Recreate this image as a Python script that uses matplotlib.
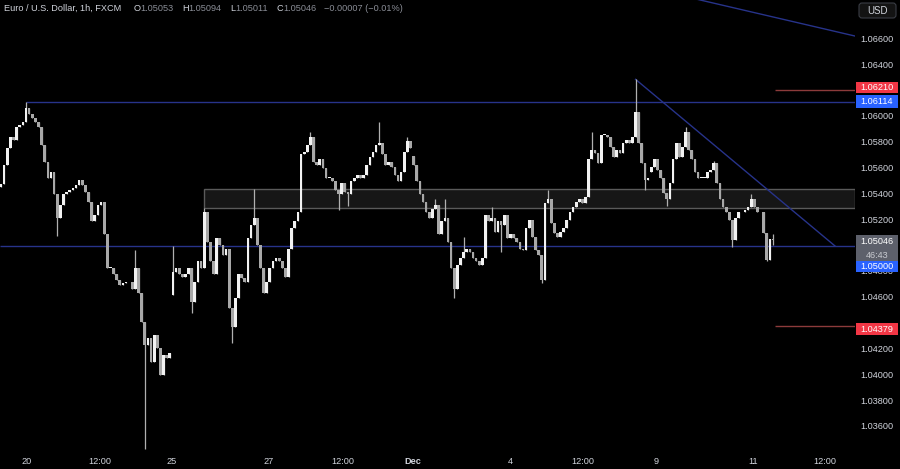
import matplotlib
matplotlib.use("Agg")
import matplotlib.pyplot as plt
from matplotlib.patches import Rectangle, FancyBboxPatch
import numpy as np

plt.rcParams["font.family"] = ["Liberation Sans", "DejaVu Sans"]

# EUR/USD 1h closes, one list per trading week
week1_close = [1.0548, 1.0563, 1.0576, 1.0584, 1.0582, 1.0592, 1.0594, 1.0596, 1.0607, 1.0602,
               1.0599, 1.0596, 1.0592, 1.0578, 1.0565, 1.0553, 1.0557, 1.0540, 1.0522, 1.0532,
               1.0540, 1.0542, 1.0543, 1.0545, 1.0547, 1.0551, 1.0547, 1.0542, 1.0534, 1.0519,
               1.0524, 1.0532, 1.0534, 1.0509, 1.0483, 1.0483, 1.0478, 1.0474, 1.0470, 1.0471,
               1.0472, 1.0472, 1.0467, 1.0483, 1.0464, 1.0441, 1.0423, 1.0429, 1.0410, 1.0431,
               1.0421, 1.0400, 1.0416, 1.0413, 1.0417]
week2_close = [1.0480, 1.0483, 1.0478, 1.0476, 1.0478, 1.0483, 1.0457, 1.0472, 1.0488, 1.0483,
               1.0526, 1.0503, 1.0488, 1.0478, 1.0506, 1.0501, 1.0493, 1.0498, 1.0452, 1.0437,
               1.0460, 1.0478, 1.0475, 1.0472, 1.0506, 1.0516, 1.0522, 1.0501, 1.0483, 1.0464,
               1.0472, 1.0483, 1.0488, 1.0491, 1.0488, 1.0483, 1.0476, 1.0498, 1.0514, 1.0519,
               1.0526, 1.0571, 1.0573, 1.0578, 1.0584, 1.0565, 1.0563, 1.0567, 1.0560, 1.0553,
               1.0553, 1.0550, 1.0543, 1.0540, 1.0549, 1.0542, 1.0540, 1.0550, 1.0553, 1.0555,
               1.0553, 1.0555, 1.0563, 1.0569, 1.0573, 1.0578, 1.0580, 1.0571, 1.0563, 1.0565,
               1.0561, 1.0555, 1.0550, 1.0557, 1.0573, 1.0581, 1.0576]
week3_close = [1.0563, 1.0550, 1.0540, 1.0534, 1.0526, 1.0522, 1.0529, 1.0532, 1.0509, 1.0519,
               1.0522, 1.0503, 1.0483, 1.0467, 1.0485, 1.0491, 1.0495, 1.0498, 1.0495, 1.0491,
               1.0488, 1.0485, 1.0491, 1.0524, 1.0519, 1.0522, 1.0511, 1.0519, 1.0516, 1.0524,
               1.0506, 1.0509, 1.0506, 1.0503, 1.0498, 1.0497, 1.0514, 1.0520, 1.0507, 1.0497,
               1.0493, 1.0474, 1.0533, 1.0536, 1.0518, 1.0510, 1.0507, 1.0511, 1.0514, 1.0520,
               1.0526, 1.0530, 1.0534, 1.0536, 1.0533, 1.0538, 1.0567, 1.0574, 1.0572, 1.0564,
               1.0586, 1.0586, 1.0584, 1.0577, 1.0569, 1.0574, 1.0572, 1.0580, 1.0582, 1.0580,
               1.0584, 1.0604, 1.0580, 1.0564, 1.0551, 1.0553]
week4_close = [1.0561, 1.0567, 1.0559, 1.0553, 1.0541, 1.0536, 1.0549, 1.0567, 1.0580, 1.0569,
               1.0577, 1.0588, 1.0574, 1.0567, 1.0557, 1.0553, 1.0553, 1.0553, 1.0557, 1.0559,
               1.0564, 1.0549, 1.0536, 1.0530, 1.0526, 1.0520, 1.0505, 1.0522, 1.0526, 1.0526,
               1.0528, 1.0530, 1.0536, 1.0530, 1.0526, 1.0526, 1.0510, 1.0489, 1.05053, 1.05046]
week_open = [1.0546, 1.0462, 1.0570, 1.0557]

# wicks that stick out past the body: (week, bar) -> price
wick_high = {(0, 8): 1.06114, (0, 43): 1.0497, (1, 0): 1.0500, (1, 10): 1.05295,
             (1, 26): 1.05442, (1, 44): 1.0588, (1, 66): 1.0596, (1, 75): 1.0584,
             (2, 7): 1.0536, (2, 10): 1.0536, (2, 16): 1.0507, (2, 25): 1.0530,
             (2, 43): 1.0543, (2, 57): 1.0588, (2, 71): 1.0629, (3, 11): 1.0592,
             (3, 20): 1.0566, (3, 32): 1.0540, (3, 39): 1.05094}
wick_low = {(0, 18): 1.0508, (0, 46): 1.0343, (1, 6): 1.0448, (1, 19): 1.0425,
            (1, 53): 1.0528, (1, 56): 1.0531, (2, 13): 1.0460, (2, 28): 1.0495,
            (2, 41): 1.0471, (2, 74): 1.0543, (3, 5): 1.0531, (3, 26): 1.0499,
            (3, 37): 1.0488, (3, 39): 1.05011}

last_bar_hour = 386.5          # trading hours from first to last visible bar
right_edge_hour = 427.5
price_min, price_max = 1.03421, 1.06904

# drawn levels
resistance = 1.06114
support = 1.05000
zone_low, zone_high = 1.05295, 1.05442
red_levels = [1.06210, 1.04379]
upper_trend = ([340.0, 427.5], [1.0694, 1.06625])
down_trend_end = (417.5, 1.05000)

# time axis: label, trading hour
time_labels = ["20", "12:00", "25", "27", "12:00", "Dec", "4", "12:00", "9", "11", "12:00"]
time_hours = [13, 49.5, 85.5, 134, 171, 206, 255, 291.5, 328, 376.5, 412.5]

# price scale ticks (1.044, 1.050, 1.062 sit under the price tags)
price_ticks = [1.036, 1.038, 1.040, 1.042, 1.046, 1.048, 1.052, 1.054,
               1.056, 1.058, 1.060, 1.064, 1.066]

BG = "#000000"
TXT = "#d1d4dc"
NAVY = "#27338a"

weeks = [week1_close, week2_close, week3_close, week4_close]
opens, highs, lows, closes = [], [], [], []
for w, (wo, wc) in enumerate(zip(week_open, weeks)):
    prev = wo
    for i, c in enumerate(wc):
        o = prev
        highs.append(wick_high.get((w, i), max(o, c)))
        lows.append(wick_low.get((w, i), min(o, c)))
        opens.append(o)
        closes.append(c)
        prev = c
opens, highs, lows, closes = map(np.array, (opens, highs, lows, closes))
n = len(closes)
hours = np.linspace(0, last_bar_hour, n)
box_start = hours[len(week1_close) + 10]
peak_i = len(week1_close) + len(week2_close) + 71

fig = plt.figure(figsize=(9, 4.69), dpi=100, facecolor=BG)
ax = fig.add_axes([0, 19 / 469, 855 / 900, 450 / 469])
ax.set_facecolor(BG)
ax.set_xlim(-0.5, right_edge_hour)
ax.set_ylim(price_min, price_max)
ax.axis("off")
px = 450 / (price_max - price_min)   # pixels per price unit

# zone, levels, trend lines
ax.add_patch(Rectangle((box_start, zone_low), right_edge_hour - box_start, zone_high - zone_low,
                       facecolor="#161616", edgecolor="#5a5a5a", lw=1.0, zorder=1))
ax.hlines(resistance, hours[8], right_edge_hour, color=NAVY, lw=1.0, zorder=1)
ax.hlines(support, -0.5, right_edge_hour, color=NAVY, lw=1.0, zorder=1)
ax.hlines(red_levels, hours[-1] + 1, right_edge_hour, color="#8c3b3b", lw=1.0, zorder=1)
ax.plot([hours[peak_i], down_trend_end[0]], [highs[peak_i], down_trend_end[1]],
        color=NAVY, lw=1.0, zorder=1)
ax.plot(upper_trend[0], upper_trend[1], color=NAVY, lw=1.0, zorder=1)

# candles
up = closes >= opens
ax.vlines(hours, lows, highs, color="#b0b0b0", lw=0.9, zorder=2)
body_lo = np.minimum(opens, closes)
body_h = np.maximum(np.abs(closes - opens), 0.00005)
ax.bar(hours[up], body_h[up], bottom=body_lo[up], width=1.35, color="#f2f2f2", lw=0, zorder=3)
ax.bar(hours[~up], body_h[~up], bottom=body_lo[~up], width=1.35, color="#a8a8a8", lw=0, zorder=3)

# time axis
for lab, h in zip(time_labels, time_hours):
    ax.text(h, -11 / 450, lab, transform=ax.get_xaxis_transform(), ha="center", va="center",
            fontsize=6.6, color=TXT, fontweight="bold" if lab == "Dec" else "normal")

# price scale
axr = fig.add_axes([855 / 900, 19 / 469, 45 / 900, 450 / 469])
axr.set_facecolor(BG)
axr.set_xlim(0, 45)
axr.set_ylim(price_min, price_max)
axr.axis("off")
for p in price_ticks:
    axr.text(22, p, f"{p:.5f}", ha="center", va="center", fontsize=6.6, color=TXT, zorder=1)


def tag(price, text, color, shift_px=0, h_px=12, extra=None):
    yc = price + shift_px / px
    top = yc + h_px / 2 / px
    hh = h_px + 14 if extra else h_px
    axr.add_patch(Rectangle((1, top - hh / px), 42, hh / px, facecolor=color, lw=0, zorder=5))
    axr.text(22, yc, text, ha="center", va="center", fontsize=6.6, color="white", zorder=6)
    if extra:
        axr.text(22, yc - 14 / px, extra, ha="center", va="center", fontsize=6.6,
                 color="#c8cad0", zorder=6)


tag(1.06210, "1.06210", "#f23645", shift_px=2, h_px=11)
tag(1.06114, "1.06114", "#2962ff", shift_px=1, h_px=13)
tag(closes[-1], f"{closes[-1]:.5f}", "#5d606b", shift_px=-1, h_px=13, extra="46:43")
tag(1.05000, "1.05000", "#2962ff", shift_px=-21, h_px=11)
tag(1.04379, "1.04379", "#f23645", shift_px=-3, h_px=12)

top_px = lambda y: price_max - y / px
axr.add_patch(FancyBboxPatch((4, top_px(18)), 37, 15 / px, boxstyle="round,pad=0,rounding_size=3",
                             mutation_aspect=1 / px, facecolor="#131313", edgecolor="#3a3d45",
                             lw=0.8, zorder=5))
axr.text(22.5, top_px(10.5), "USD", ha="center", va="center", fontsize=7, color=TXT, zorder=6)

# legend line at the top
o, h, l, c = opens[-1], highs[-1], lows[-1], closes[-1]
chg = c - o
pieces = [("Euro / U.S. Dollar, 1h, FXCM", TXT, 0), ("O", TXT, 9), (f"{o:.5f}", "#8a8d96", 0),
          ("H", TXT, 6), (f"{h:.5f}", "#8a8d96", 0), ("L", TXT, 6), (f"{l:.5f}", "#8a8d96", 0),
          ("C", TXT, 6), (f"{c:.5f}", "#8a8d96", 0),
          (f"\u2212{abs(chg):.5f} (\u2212{abs(chg) / o * 100:.2f}%)", "#8a8d96", 6)]
prev = fig.text(4 / 900, 1 - 8.5 / 469, pieces[0][0], color=pieces[0][1], fontsize=6.6,
                ha="left", va="center")
for s, col, gap in pieces[1:]:
    prev = ax.annotate(s, xy=(1, 0.5), xycoords=prev, xytext=(gap, 0), textcoords="offset points",
                       ha="left", va="center", fontsize=6.6, color=col, annotation_clip=False)

fig.savefig("out.png", dpi=100, facecolor=BG)
